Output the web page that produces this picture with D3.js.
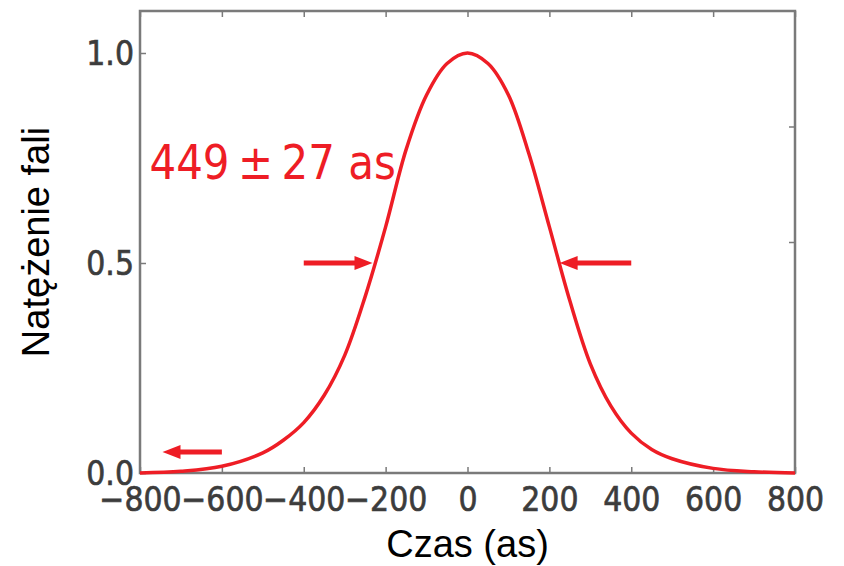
<!DOCTYPE html>
<html>
<head>
<meta charset="utf-8">
<script src="https://cdn.jsdelivr.net/npm/d3@7"></script>
<style>
  body { margin: 0; background: #fff; }
  svg { display: block; }
  .tick-label { font-family: "DejaVu Sans", sans-serif; font-size: 30px; fill: #3c3c3c; stroke: #3c3c3c; stroke-width: 0.6px; }
  .axis-title { font-family: "Liberation Sans", Arial, sans-serif; font-size: 38px; fill: #000; }
</style>
</head>
<body>
<div id="chart"></div>
<script>
const FRAME_WIDTH = 844;
const FRAME_HEIGHT = 566;
const PLOT = {left: 140, right: 795, top: 11, bottom: 473};

// x ticks (as) and y ticks
const X_TICKS = [-800, -600, -400, -200, 0, 200, 400, 600, 800];
const Y_TICKS = [0.0, 0.5, 1.0];
// the right spine ticks in the picture do not line up with the left ones
const RIGHT_TICKS = [0.55, 0.825];

// pulse
const TIME_AS = [-800, -700, -600, -500, -450, -400, -350, -300, -250, -200, -150, -100, -50, 0,
                 50, 100, 150, 200, 250, 300, 350, 400, 450, 500, 600, 700, 800];
const INTENSITY = [0.0, 0.004, 0.016, 0.048, 0.078, 0.12, 0.185, 0.28, 0.42, 0.586, 0.77, 0.9, 0.975, 1.0,
                   0.975, 0.9, 0.76, 0.586, 0.41, 0.26, 0.16, 0.095, 0.056, 0.034, 0.011, 0.003, 0.0];

// annotation arrows: start, tip, level
const ARROW_FROM = [-400, 400, -600];
const ARROW_TO = [-232, 225, -745];
const ARROW_LEVEL = [0.5, 0.5, 0.05];

const LABEL_TEXT = "449\u2009±\u200927 as";
const LABEL_T = -777;
const LABEL_LEVEL = 0.70;

const RED = "#ee1d25";
const GRAY = "#7a7a7a";

const FRAME = d3.select("#chart")
                .append("svg")
                  .attr("width", FRAME_WIDTH)
                  .attr("height", FRAME_HEIGHT);

const X_SCALE = d3.scaleLinear()
                  .domain([-800, 800])
                  .range([PLOT.left, PLOT.right]);

const Y_SCALE = d3.scaleLinear()
                  .domain([0, 1.1])
                  .range([PLOT.bottom, PLOT.top]);

// bottom axis, ticks pointing inward
const xAxis = FRAME.append("g")
    .attr("transform", "translate(0," + PLOT.bottom + ")")
    .call(d3.axisBottom(X_SCALE).tickValues(X_TICKS).tickSizeInner(-6).tickSizeOuter(0));
xAxis.select(".domain").remove();
xAxis.selectAll("line").attr("stroke", GRAY).attr("stroke-width", 1.5);
xAxis.selectAll("text")
    .attr("class", "tick-label")
    .attr("y", null).attr("dy", null)
    .attr("font-size", null).attr("font-family", null)
    .attr("transform", "translate(0,38) scale(1,1.15)");

// top ticks (no labels)
const topAxis = FRAME.append("g")
    .attr("transform", "translate(0," + PLOT.top + ")")
    .call(d3.axisTop(X_SCALE).tickValues(X_TICKS).tickSizeInner(-6).tickSizeOuter(0).tickFormat(""));
topAxis.select(".domain").remove();
topAxis.selectAll("line").attr("stroke", GRAY).attr("stroke-width", 1.5);

// left axis
const yAxis = FRAME.append("g")
    .attr("transform", "translate(" + PLOT.left + ",0)")
    .call(d3.axisLeft(Y_SCALE).tickValues(Y_TICKS).tickSizeInner(-6).tickSizeOuter(0).tickFormat(d3.format(".1f")));
yAxis.select(".domain").remove();
yAxis.selectAll("line").attr("stroke", GRAY).attr("stroke-width", 1.5);
yAxis.selectAll("text")
    .attr("class", "tick-label")
    .attr("x", null).attr("dy", null)
    .attr("font-size", null).attr("font-family", null)
    .attr("transform", "translate(-6,11) scale(1,1.12)");

// right ticks (no labels)
const rightAxis = FRAME.append("g")
    .attr("transform", "translate(" + PLOT.right + ",0)")
    .call(d3.axisRight(Y_SCALE).tickValues(RIGHT_TICKS).tickSizeInner(-6).tickSizeOuter(0).tickFormat(""));
rightAxis.select(".domain").remove();
rightAxis.selectAll("line").attr("stroke", GRAY).attr("stroke-width", 1.5);

// frame
FRAME.append("rect")
    .attr("x", X_SCALE.range()[0])
    .attr("y", Y_SCALE.range()[1])
    .attr("width", X_SCALE.range()[1] - X_SCALE.range()[0])
    .attr("height", Y_SCALE.range()[0] - Y_SCALE.range()[1])
    .attr("fill", "none")
    .attr("stroke", GRAY)
    .attr("stroke-width", 2.5);

// pulse curve
const pulse = TIME_AS.map((t, i) => ({t: t, v: INTENSITY[i]}));
const line = d3.line()
    .x((d) => { return X_SCALE(d.t); })
    .y((d) => { return Y_SCALE(d.v); })
    .curve(d3.curveCatmullRom.alpha(0.5));

FRAME.append("path")
    .datum(pulse)
    .attr("d", line)
    .attr("fill", "none")
    .attr("stroke", RED)
    .attr("stroke-width", 3.5);

// arrows
const arrows = ARROW_FROM.map((f, i) => ({from: f, to: ARROW_TO[i], level: ARROW_LEVEL[i]}));
const HEAD_LEN = 18, HEAD_HALF = 7;

arrows.forEach((a) => {
  const x0 = X_SCALE(a.from), x1 = X_SCALE(a.to), y = Y_SCALE(a.level);
  const dir = Math.sign(x1 - x0);
  FRAME.append("line")
      .attr("x1", x0).attr("y1", y)
      .attr("x2", x1 - dir * HEAD_LEN * 0.8).attr("y2", y)
      .attr("stroke", RED)
      .attr("stroke-width", 5);
  FRAME.append("path")
      .attr("d", "M" + x1 + "," + y +
                 "L" + (x1 - dir * HEAD_LEN) + "," + (y - HEAD_HALF) +
                 "L" + (x1 - dir * HEAD_LEN) + "," + (y + HEAD_HALF) + "Z")
      .attr("fill", RED);
});

// width label
FRAME.append("text")
    .attr("transform", "translate(" + X_SCALE(LABEL_T) + "," + Y_SCALE(LABEL_LEVEL) + ") scale(1,1.15)")
    .attr("font-family", "DejaVu Sans, sans-serif")
    .attr("font-size", 42)
    .attr("fill", RED)
    .text(LABEL_TEXT);

// axis titles
FRAME.append("text")
    .attr("class", "axis-title")
    .attr("text-anchor", "middle")
    .attr("x", (PLOT.left + PLOT.right) / 2)
    .attr("y", 557)
    .text("Czas (as)");

FRAME.append("text")
    .attr("class", "axis-title")
    .attr("text-anchor", "middle")
    .attr("transform", "translate(49," + ((PLOT.top + PLOT.bottom) / 2) + ") rotate(-90)")
    .text("Natężenie fali");
</script>
</body>
</html>
